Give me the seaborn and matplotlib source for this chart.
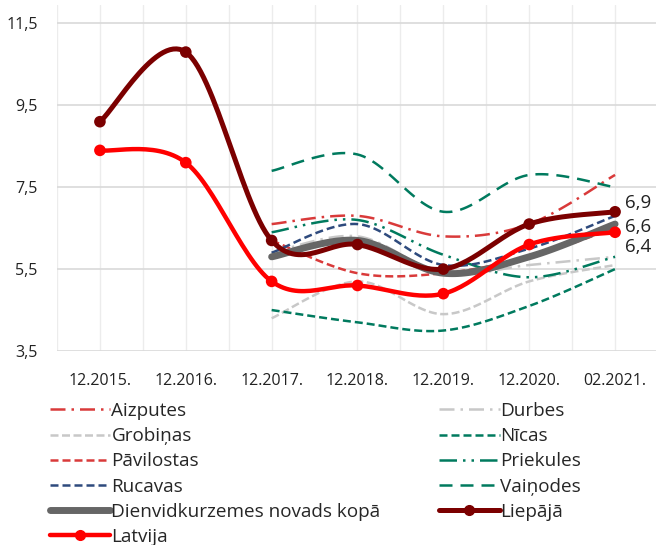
import numpy as np
import pandas as pd
import matplotlib
matplotlib.use("Agg")
import matplotlib.pyplot as plt
from matplotlib.lines import Line2D
import seaborn as sns

# Reporting periods
periods = ["12.2015.", "12.2016.", "12.2017.", "12.2018.", "12.2019.", "12.2020.", "02.2021."]

# Unemployment rate, % (series start in 12.2017. for the parishes)
aizputes = [None, None, 6.6, 6.8, 6.3, 6.6, 7.8]
durbes = [None, None, 5.9, 6.3, 5.4, 5.6, 5.8]
grobinas = [None, None, 4.3, 5.2, 4.4, 5.2, 5.6]
nicas = [None, None, 4.5, 4.2, 4.0, 4.6, 5.5]
pavilostas = [None, None, 6.2, 5.4, 5.4, 5.8, 6.5]
priekules = [None, None, 6.4, 6.7, 5.85, 5.3, 5.8]
rucavas = [None, None, 5.9, 6.6, 5.6, 6.0, 6.8]
vainodes = [None, None, 7.9, 8.3, 6.9, 7.8, 7.5]
dienvidkurzeme = [None, None, 5.8, 6.2, 5.4, 5.8, 6.6]
liepaja = [9.1, 10.8, 6.2, 6.1, 5.5, 6.6, 6.9]
latvija = [8.4, 8.1, 5.2, 5.1, 4.9, 6.1, 6.4]

y_ticks = [3.5, 5.5, 7.5, 9.5, 11.5]

RED = "#d93a3a"
TEAL = "#007a5e"
NAVY = "#2e4a7d"
LGRAY = "#c8c8c8"
DGRAY = "#666666"
MAROON = "#7b0000"
BRIGHT = "#ff0000"

LW = 1.8
series = [
    ("Aizputes", aizputes, dict(color=RED, lw=LW, ls=(0, (6, 2.4, 1, 2.4)))),
    ("Durbes", durbes, dict(color=LGRAY, lw=LW, ls=(0, (6, 2.4, 1, 2.4)))),
    ("Grobiņas", grobinas, dict(color=LGRAY, lw=LW, ls=(0, (3.2, 1.4)))),
    ("Nīcas", nicas, dict(color=TEAL, lw=LW, ls=(0, (3.2, 1.6)))),
    ("Pāvilostas", pavilostas, dict(color=RED, lw=LW, ls=(0, (3.2, 1.6)))),
    ("Priekules", priekules, dict(color=TEAL, lw=LW, ls=(0, (7, 2.4, 1, 2.4, 1, 2.4)))),
    ("Rucavas", rucavas, dict(color=NAVY, lw=LW, ls=(0, (3.2, 1.6)))),
    ("Vaiņodes", vainodes, dict(color=TEAL, lw=LW, ls=(0, (5.2, 3.2)))),
    ("Dienvidkurzemes novads kopā", dienvidkurzeme, dict(color=DGRAY, lw=5.0, ls="-")),
    ("Liepājā", liepaja, dict(color=MAROON, lw=3.6, ls="-", marker=True)),
    ("Latvija", latvija, dict(color=BRIGHT, lw=3.2, ls="-", marker=True)),
]


def smooth(xs, ys, n=30):
    """Cubic Bezier smoothing through every point (Catmull-Rom tangents)."""
    xs = np.asarray(xs, float)
    ys = np.asarray(ys, float)
    px = np.concatenate([[xs[0]], xs, [xs[-1]]])
    py = np.concatenate([[ys[0]], ys, [ys[-1]]])
    out_x, out_y = [], []
    t = np.linspace(0, 1, n)
    for i in range(1, len(px) - 2):
        p0 = np.array([px[i], py[i]])
        p3 = np.array([px[i + 1], py[i + 1]])
        c1 = p0 + (np.array([px[i + 1], py[i + 1]]) - np.array([px[i - 1], py[i - 1]])) / 6
        c2 = p3 - (np.array([px[i + 2], py[i + 2]]) - np.array([px[i], py[i]])) / 6
        b = ((1 - t) ** 3)[:, None] * p0 + (3 * (1 - t) ** 2 * t)[:, None] * c1 \
            + (3 * (1 - t) * t ** 2)[:, None] * c2 + (t ** 3)[:, None] * p3
        if i > 1:
            b = b[1:]
        out_x.extend(b[:, 0])
        out_y.extend(b[:, 1])
    return np.array(out_x), np.array(out_y)


sns.set_theme(style="white")
plt.rcParams["font.family"] = ["Open Sans", "DejaVu Sans"]

fig = plt.figure(figsize=(6.56, 5.45), dpi=100)
ax = fig.add_axes([57 / 656, 1 - 351 / 545, 601 / 656, 346 / 545])

legend_handles = []
for name, vals, st in series:
    df = pd.DataFrame({"x": np.arange(len(periods)), "y": vals}).dropna()
    sx, sy = smooth(df["x"].values, df["y"].values)
    sns.lineplot(x=sx, y=sy, ax=ax, color=st["color"], linewidth=st["lw"],
                 linestyle=st["ls"], sort=False, estimator=None,
                 solid_capstyle="round", dash_capstyle="butt", zorder=3)
    if st.get("marker"):
        sns.scatterplot(x=df["x"], y=df["y"], ax=ax, color=st["color"], s=70,
                        edgecolor="none", zorder=4)
    legend_handles.append(Line2D([], [], color=st["color"], lw=st["lw"], ls=st["ls"],
                                 marker="o" if st.get("marker") else None,
                                 markersize=7, solid_capstyle="round"))

ax.set_xlim(-0.5, len(periods) - 0.5)
ax.set_ylim(3.5, 11.95)
ax.set_xticks(range(len(periods)))
ax.set_xticklabels(periods)
ax.set_xticks(np.arange(-0.5, len(periods), 1.0), minor=True)
ax.set_yticks(y_ticks)
ax.set_yticklabels([f"{v:.1f}".replace(".", ",") for v in y_ticks])
ax.tick_params(axis="both", which="both", length=0, labelsize=11.5, colors="#222222")
ax.tick_params(axis="x", pad=16)
ax.tick_params(axis="y", pad=14)
ax.grid(axis="x", which="both", color="#ececec", lw=1.0, zorder=0)
ax.grid(axis="y", which="major", color="#d9d9d9", lw=1.2, zorder=0)
ax.set_axisbelow(True)
for s in ax.spines.values():
    s.set_visible(False)
ax.set_xlabel("")
ax.set_ylabel("")

# Value labels at the last period
last = len(periods) - 1
for val, dy in [(liepaja[-1], 9), (dienvidkurzeme[-1], -3), (latvija[-1], -15)]:
    ax.annotate(f"{val:.1f}".replace(".", ","), xy=(last, val), xytext=(10, dy),
                textcoords="offset pixels", ha="left", va="center",
                fontsize=13.5, color="#222222", annotation_clip=False)

# Legend: row-major order in two columns
names = [s[0] for s in series]
order = [0, 2, 4, 6, 8, 10, 1, 3, 5, 7, 9]
leg = fig.legend([legend_handles[i] for i in order], [names[i] for i in order],
                 ncol=2, loc="upper left", bbox_to_anchor=(50 / 656, 1 - 402 / 545),
                 frameon=False, fontsize=13.6, handlelength=3.2, handletextpad=0.05,
                 columnspacing=3.1, labelspacing=0.38, borderaxespad=0, borderpad=0)

fig.savefig("out.png", dpi=100)
